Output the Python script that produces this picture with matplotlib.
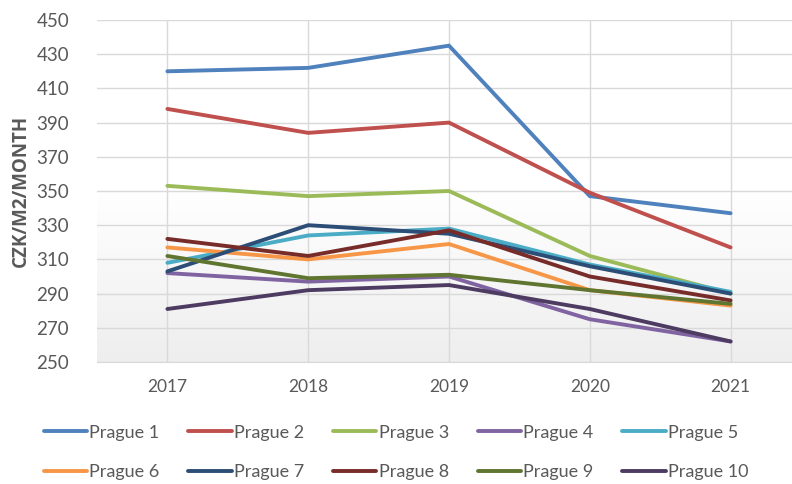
import matplotlib.pyplot as plt
import numpy as np

# Data
years = ['2017', '2018', '2019', '2020', '2021']
prague1 = [420, 422, 435, 347, 337]
prague2 = [398, 384, 390, 349, 317]
prague3 = [353, 347, 350, 312, 290]
prague4 = [302, 297, 300, 275, 262]
prague5 = [308, 324, 328, 307, 291]
prague6 = [317, 310, 319, 292, 283]
prague7 = [303, 330, 325, 306, 290]
prague8 = [322, 312, 327, 300, 286]
prague9 = [312, 299, 301, 292, 284]
prague10 = [281, 292, 295, 281, 262]

labels = ['Prague 1', 'Prague 2', 'Prague 3', 'Prague 4', 'Prague 5',
          'Prague 6', 'Prague 7', 'Prague 8', 'Prague 9', 'Prague 10']
series = [prague1, prague2, prague3, prague4, prague5,
          prague6, prague7, prague8, prague9, prague10]
colors = ['#4F81BD', '#C0504D', '#9BBB59', '#8064A2', '#4BACC6',
          '#F79646', '#2C4D75', '#772C2A', '#5F7530', '#4D3B62']

plt.rcParams['font.family'] = ['Lato', 'DejaVu Sans']

fig = plt.figure(figsize=(7.92, 4.84), dpi=100)
ax = fig.add_axes([97 / 792, 122 / 484, 704 / 792, 342 / 484])

x = np.arange(len(years))

# Light gradient background, white at top to pale gray at bottom
grad = np.linspace(0, 1, 256).reshape(-1, 1)
ax.imshow(grad, extent=[0, 1, 0, 1], transform=ax.transAxes, aspect='auto',
          cmap=plt.matplotlib.colors.LinearSegmentedColormap.from_list(
              'bg', ['#ffffff', '#ffffff', '#eeeeee']), origin='upper',
          zorder=0)

handles = []
for vals, lab, col in zip(series, labels, colors):
    h, = ax.plot(x, vals, color=col, lw=2.8, label=lab, zorder=3,
                 solid_capstyle='round', solid_joinstyle='miter')
    handles.append(h)

ax.set_xlim(-0.5, len(years) - 0.5)
ax.set_ylim(250, 450)
ax.set_yticks(np.arange(250, 451, 20))
ax.set_xticks(x)
ax.set_xticklabels(years)

ax.grid(True, color='#d9d9d9', lw=1.0, zorder=1)
ax.set_axisbelow(True)
for s in ['top', 'right', 'left']:
    ax.spines[s].set_visible(False)
ax.spines['bottom'].set_color('#d9d9d9')

ax.tick_params(axis='y', length=0, pad=20, labelsize=13.5, labelcolor='#595959')
ax.tick_params(axis='x', length=0, pad=12, labelsize=12.5, labelcolor='#595959')

ax.set_ylabel('CZK/M2/MONTH', fontsize=13.5, fontweight='bold', color='#595959',
              family=['Open Sans', 'DejaVu Sans'], labelpad=4)

# Row-wise legend order for 5 columns
order = [0, 5, 1, 6, 2, 7, 3, 8, 4, 9]
leg = fig.legend([handles[i] for i in order], [labels[i] for i in order],
                 ncol=5, loc='lower center', bbox_to_anchor=(0.5, -0.026),
                 frameon=False, fontsize=13, handlelength=2.4,
                 handletextpad=0.12, columnspacing=1.6, labelspacing=1.32)
for t in leg.get_texts():
    t.set_color('#595959')

fig.savefig('out.png', dpi=100)
